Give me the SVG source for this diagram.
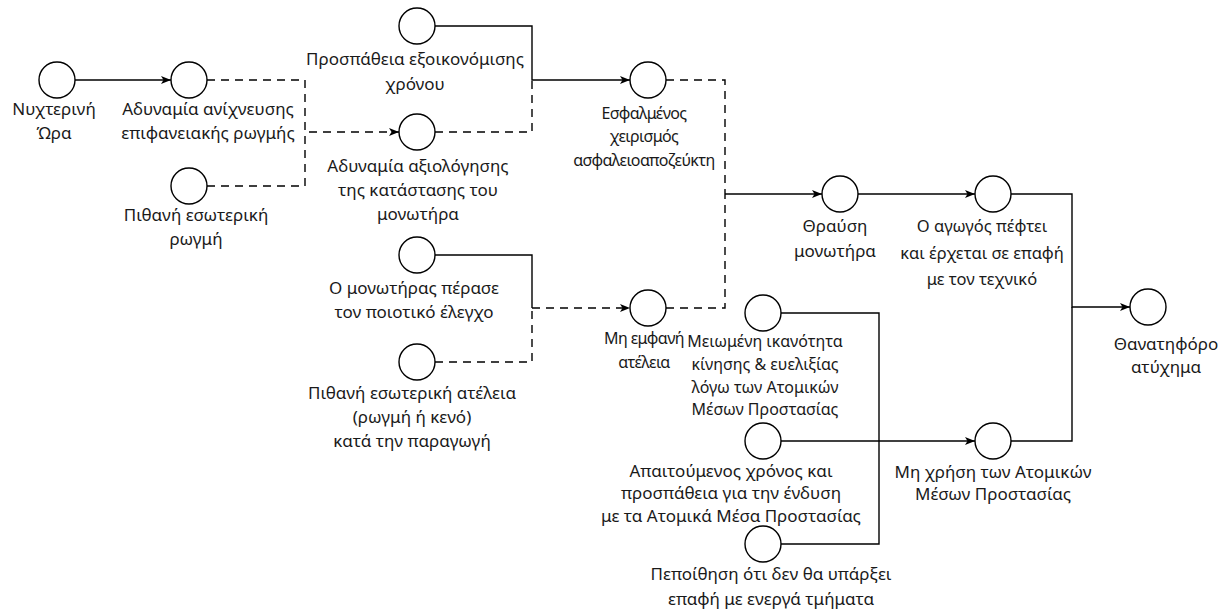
<svg xmlns="http://www.w3.org/2000/svg" width="1229" height="614" viewBox="0 0 1229 614">
<style>
.n{fill:#fff;stroke:#000;stroke-width:1.4}
.c{fill:none;stroke:#000;stroke-width:1.4}
.d{stroke-dasharray:8 6}
text{font-family:"Noto Sans","DejaVu Sans",sans-serif;font-size:17px;fill:#1a1a1a;text-anchor:middle}
.s{font-size:16px}
.m{font-size:16.5px}
.t{letter-spacing:-0.6px}
</style>
<defs>
<marker id="a" viewBox="0 0 10 10" refX="10" refY="5" markerWidth="10" markerHeight="10" markerUnits="userSpaceOnUse" orient="auto"><path d="M0,1 L10,5 L0,9 L2.5,5 Z" fill="#000"/></marker>
</defs>
<rect width="1229" height="614" fill="#fff"/>
<g id="connectors">
<path class="c" d="M75,80 H171" marker-end="url(#a)"/>
<path class="c d" d="M207,80 H305 V132 H399" marker-end="url(#a)"/>
<path class="c d" d="M207,186 H305 V132"/>
<path class="c" d="M435,26 H532 V80 H630" marker-end="url(#a)"/>
<path class="c d" d="M435,132 H532 V80"/>
<path class="c" d="M435,255 H532 V308"/>
<path class="c d" d="M532,308 H630" marker-end="url(#a)"/>
<path class="c d" d="M435,362 H532 V308"/>
<path class="c d" d="M666,80 H725 V194"/>
<path class="c d" d="M666,308 H725 V194"/>
<path class="c" d="M725,194 H822" marker-end="url(#a)"/>
<path class="c" d="M858,194 H975" marker-end="url(#a)"/>
<path class="c" d="M1011,194 H1072 V307 H1130" marker-end="url(#a)"/>
<path class="c" d="M1011,441 H1072 V307"/>
<path class="c" d="M781,313 H879 V544 H781"/>
<path class="c" d="M781,441 H975" marker-end="url(#a)"/>
</g>
<g id="n1"><circle class="n" cx="57" cy="80" r="18"/><text x="54" y="115"><tspan x="54">Νυχτερινή</tspan><tspan x="54" dy="24">Ώρα</tspan></text></g>
<g id="n2"><circle class="n" cx="189" cy="80" r="18"/><text x="208" y="115"><tspan x="208">Αδυναμία ανίχνευσης</tspan><tspan x="208" dy="24">επιφανειακής ρωγμής</tspan></text></g>
<g id="n3"><circle class="n" cx="189" cy="186" r="18"/><text x="196" y="221"><tspan x="196">Πιθανή εσωτερική</tspan><tspan x="196" dy="24">ρωγμή</tspan></text></g>
<g id="n4"><circle class="n" cx="417" cy="26" r="18"/><text x="415" y="65"><tspan x="415">Προσπάθεια εξοικονόμισης</tspan><tspan x="415" dy="25">χρόνου</tspan></text></g>
<g id="n5"><circle class="n" cx="417" cy="132" r="18"/><text x="418" y="172"><tspan x="418">Αδυναμία αξιολόγησης</tspan><tspan x="418" dy="24">της κατάστασης του</tspan><tspan x="418" dy="24">μονωτήρα</tspan></text></g>
<g id="n6"><circle class="n" cx="648" cy="80" r="18"/><text class="s t" x="644" y="119"><tspan x="644">Εσφαλμένος</tspan><tspan x="644" dy="23">χειρισμός</tspan><tspan x="644" dy="24">ασφαλειοαποζεύκτη</tspan></text></g>
<g id="n7"><circle class="n" cx="417" cy="255" r="18"/><text x="414" y="294"><tspan x="414">Ο μονωτήρας πέρασε</tspan><tspan x="414" dy="24">τον ποιοτικό έλεγχο</tspan></text></g>
<g id="n8"><circle class="n" cx="417" cy="362" r="18"/><text x="412" y="399"><tspan x="412">Πιθανή εσωτερική ατέλεια</tspan><tspan x="412" dy="24">(ρωγμή ή κενό)</tspan><tspan x="412" dy="24">κατά την παραγωγή</tspan></text></g>
<g id="n9"><circle class="n" cx="648" cy="308" r="18"/><text class="s t" x="644" y="344"><tspan x="644">Μη εμφανή</tspan><tspan x="644" dy="24">ατέλεια</tspan></text></g>
<g id="n10"><circle class="n" cx="840" cy="194" r="18"/><text x="835" y="232"><tspan x="835">Θραύση</tspan><tspan x="835" dy="25">μονωτήρα</tspan></text></g>
<g id="n11"><circle class="n" cx="993" cy="194" r="18"/><text class="m" x="982" y="232"><tspan x="982">Ο αγωγός πέφτει</tspan><tspan x="982" dy="27">και έρχεται σε επαφή</tspan><tspan x="982" dy="26">με τον τεχνικό</tspan></text></g>
<g id="n12"><circle class="n" cx="1148" cy="307" r="18"/><text x="1166" y="350"><tspan x="1166">Θανατηφόρο</tspan><tspan x="1166" dy="23">ατύχημα</tspan></text></g>
<g id="n13"><circle class="n" cx="763" cy="313" r="18"/><text class="s" x="765" y="347"><tspan x="765">Μειωμένη ικανότητα</tspan><tspan x="765" dy="23">κίνησης &amp; ευελιξίας</tspan><tspan x="765" dy="23">λόγω των Ατομικών</tspan><tspan x="765" dy="22">Μέσων Προστασίας</tspan></text></g>
<g id="n14"><circle class="n" cx="763" cy="441" r="18"/><text x="731" y="477"><tspan x="731">Απαιτούμενος χρόνος και</tspan><tspan x="731" dy="22">προσπάθεια για την ένδυση</tspan><tspan x="731" dy="23">με τα Ατομικά Μέσα Προστασίας</tspan></text></g>
<g id="n15"><circle class="n" cx="763" cy="544" r="18"/><text x="771" y="580"><tspan x="771">Πεποίθηση ότι δεν θα υπάρξει</tspan><tspan x="771" dy="25">επαφή με ενεργά τμήματα</tspan></text></g>
<g id="n16"><circle class="n" cx="993" cy="441" r="18"/><text x="993" y="478"><tspan x="993">Μη χρήση των Ατομικών</tspan><tspan x="993" dy="22">Μέσων Προστασίας</tspan></text></g>
</svg>
